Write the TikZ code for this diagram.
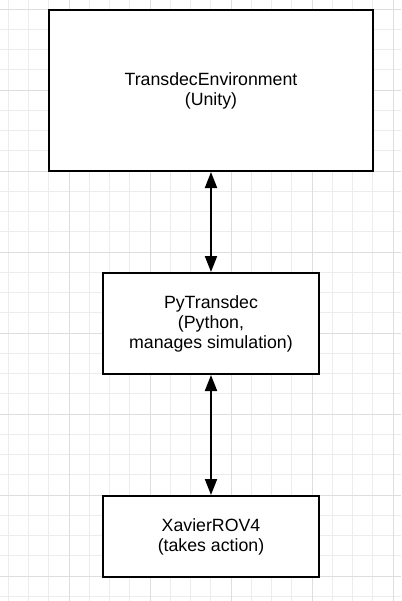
\documentclass[tikz,border=0pt]{standalone}
\usepackage{fontspec}
\setmainfont{Liberation Sans}
\usepackage{xcolor}
\usetikzlibrary{arrows.meta}

\definecolor{gridminor}{RGB}{236,236,236}
\definecolor{gridmajor}{RGB}{222,222,222}

\tikzset{
  blockbox/.style={draw=black, line width=1.5pt, fill=white, align=center, inner sep=0.75pt,
    font=\fontsize{13.3}{15}\selectfont},
  linkarrow/.style={line width=1.5pt, {Triangle[width=9pt,length=12pt]}-{Triangle[width=9pt,length=12pt]}}
}

\begin{document}
\begin{tikzpicture}[x=0.75pt,y=0.75pt,yscale=-1,xscale=1]
			\useasboundingbox (0,0) rectangle (401,601);
			\fill [white] (0,0) rectangle (401,601);
			
			%Grid background
			\foreach \k in {0,...,19} {
				\draw [gridminor, line width=0.75pt] ({8.25+20.25*\k},0) -- ({8.25+20.25*\k},601);
			}
			\foreach \k in {0,...,29} {
				\draw [gridminor, line width=0.75pt] (0,{9+20.25*\k}) -- (401,{9+20.25*\k});
			}
			\foreach \k in {3,7,11,15,19} {
				\draw [gridmajor, line width=0.75pt] ({8.25+20.25*\k},0) -- ({8.25+20.25*\k},601);
			}
			\foreach \k in {0,4,...,28} {
				\draw [gridmajor, line width=0.75pt] (0,{9+20.25*\k}) -- (401,{9+20.25*\k});
			}
			
			%Shape: Rectangle [environment]
			\node (unityenv) [blockbox, minimum width=243pt, minimum height=120.75pt] at (211,90.5) {TransdecEnvironment\\(Unity)};
			%Shape: Rectangle [pytransdec]
			\node (pytransdec) [blockbox, minimum width=162pt, minimum height=75.75pt] at (211,323.5) {PyTransdec\\(Python,\\manages simulation)};
			%Shape: Rectangle [rov]
			\node (xavierrov) [blockbox, minimum width=162pt, minimum height=60.75pt] at (211,536.5) {XavierROV4\\(takes action)};
			
			%Straight Lines
			\draw [linkarrow] (unityenv) -- (pytransdec);
			\draw [linkarrow] (pytransdec) -- (xavierrov);
			
		\end{tikzpicture}
\end{document}
